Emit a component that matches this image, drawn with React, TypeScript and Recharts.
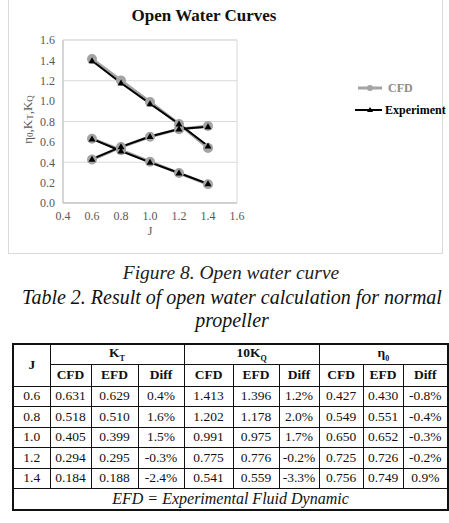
import React from 'react'
import {
  LineChart,
  Line,
  XAxis,
  YAxis,
  CartesianGrid,
  ReferenceArea,
  Legend,
} from 'recharts'

// ── data ─────────────────────────────────────────────
const J_VALUES = [0.6, 0.8, 1.0, 1.2, 1.4]

const CFD_KT = [0.631, 0.518, 0.405, 0.294, 0.184]
const EFD_KT = [0.629, 0.51, 0.399, 0.295, 0.188]
const CFD_KQ10 = [1.413, 1.202, 0.991, 0.775, 0.541]
const EFD_KQ10 = [1.396, 1.178, 0.975, 0.776, 0.559]
const CFD_ETA = [0.427, 0.549, 0.65, 0.725, 0.756]
const EFD_ETA = [0.43, 0.551, 0.652, 0.726, 0.749]

const X_TICKS = [0.4, 0.6, 0.8, 1.0, 1.2, 1.4, 1.6]
const Y_TICKS = [0, 0.2, 0.4, 0.6, 0.8, 1.0, 1.2, 1.4, 1.6]

const DIFF_KT = ['0.4%', '1.6%', '1.5%', '-0.3%', '-2.4%']
const DIFF_KQ = ['1.2%', '2.0%', '1.7%', '-0.2%', '-3.3%']
const DIFF_ETA = ['-0.8%', '-0.4%', '-0.3%', '-0.2%', '0.9%']

const data = J_VALUES.map((j, i) => ({
  j,
  cfdKT: CFD_KT[i],
  efdKT: EFD_KT[i],
  cfdKQ: CFD_KQ10[i],
  efdKQ: EFD_KQ10[i],
  cfdEta: CFD_ETA[i],
  efdEta: EFD_ETA[i],
}))

const SERIF = '"Liberation Serif", "Times New Roman", serif'
const GRAY = '#a3a3a3'
const AXIS_TEXT = '#595959'

// ── markers ──────────────────────────────────────────
function Triangle(props: any) {
  const { cx, cy, index } = props
  if (cx == null || cy == null) return null
  return (
    <path
      key={index}
      d={`M${cx},${cy - 3.5} L${cx + 3.5},${cy + 2.5} L${cx - 3.5},${cy + 2.5} Z`}
      fill="#000"
    />
  )
}

function LegendBox() {
  return (
    <svg width={95} height={40} style={{ display: 'block' }}>
      <line x1={4} y1={9} x2={28} y2={9} stroke={GRAY} strokeWidth={3} />
      <circle cx={16} cy={9} r={3} fill={GRAY} />
      <text x={34} y={13} fontFamily={SERIF} fontWeight="bold" fontSize={12} fill="#8c8c8c">CFD</text>
      <line x1={1} y1={31} x2={28} y2={31} stroke="#000" strokeWidth={2} />
      <path d="M16,28 L19,33 L13,33 Z" fill="#000" />
      <text x={31} y={35} fontFamily={SERIF} fontWeight="bold" fontSize={12} fill="#000">Experiment</text>
    </svg>
  )
}

function YLabel(props: any) {
  const { viewBox } = props
  const x = viewBox.x + 18
  const y = viewBox.y + viewBox.height / 2 - 2
  return (
    <text
      x={x}
      y={y}
      transform={`rotate(-90, ${x}, ${y})`}
      textAnchor="middle"
      dominantBaseline="central"
      fontFamily={SERIF}
      fontSize={13}
      fill={AXIS_TEXT}
    >
      η<tspan fontSize={9} dy={3}>0</tspan>
      <tspan dy={-3}>,K</tspan>
      <tspan fontSize={9} dy={3}>T</tspan>
      <tspan dy={-3}>,K</tspan>
      <tspan fontSize={9} dy={3}>Q</tspan>
    </text>
  )
}

function XLabel(props: any) {
  const { viewBox } = props
  return (
    <text
      x={viewBox.x + viewBox.width / 2}
      y={viewBox.y + 28}
      textAnchor="middle"
      dominantBaseline="central"
      fontFamily={SERIF}
      fontSize={12}
      fill={AXIS_TEXT}
    >
      J
    </text>
  )
}

// ── table pieces ─────────────────────────────────────
const cell: React.CSSProperties = {
  border: '1px solid #111',
  padding: 0,
  textAlign: 'center',
  verticalAlign: 'middle',
}
const COL_WIDTHS = [37, 41, 47, 46, 49, 46, 40, 44, 40, 45]

export default function App() {
  return (
    <div style={{ position: 'absolute', left: 0, top: 0, width: 449, height: 523, overflow: 'hidden', background: '#fff', fontFamily: SERIF }}>
      {/* chart frame */}
      <div style={{ position: 'absolute', left: 8, top: -1, width: 433, height: 253, border: '1px solid #d9d9d9' }}>
        <div style={{ position: 'absolute', left: 0, top: 6, width: 390, textAlign: 'center', fontWeight: 'bold', fontSize: 17, color: '#111' }}>
          Open Water Curves
        </div>
        <LineChart width={433} height={253} data={data} margin={{ top: 40, right: 110, left: 0, bottom: 20 }}>
          <CartesianGrid horizontal vertical={false} stroke="#d9d9d9" />
          <ReferenceArea x1={0.4} x2={1.6} y1={0} y2={1.6} fill="none" stroke="#d9d9d9" ifOverflow="visible" />
          <XAxis
            type="number"
            dataKey="j"
            domain={[0.4, 1.6]}
            ticks={X_TICKS}
            tickFormatter={(v: number) => v.toFixed(1)}
            tick={{ fill: AXIS_TEXT, fontSize: 12, fontFamily: SERIF }}
            tickLine={false}
            axisLine={{ stroke: '#bfbfbf' }}
            height={30}
            label={<XLabel />}
          />
          <YAxis
            type="number"
            domain={[0, 1.6]}
            ticks={Y_TICKS}
            tickFormatter={(v: number) => v.toFixed(1)}
            tick={{ fill: AXIS_TEXT, fontSize: 12, fontFamily: SERIF }}
            tickLine={false}
            axisLine={{ stroke: '#bfbfbf' }}
            width={54}
            label={<YLabel />}
          />
          <Legend
            layout="vertical"
            align="right"
            verticalAlign="top"
            content={() => <LegendBox />}
            wrapperStyle={{ position: 'absolute', left: 345, top: 79, width: 95 }}
          />
          <Line dataKey="cfdKQ" stroke={GRAY} strokeWidth={3} dot={{ r: 3.5, fill: GRAY, stroke: GRAY }} isAnimationActive={false} legendType="none" />
          <Line dataKey="cfdKT" stroke={GRAY} strokeWidth={3} dot={{ r: 3.5, fill: GRAY, stroke: GRAY }} isAnimationActive={false} legendType="none" />
          <Line dataKey="cfdEta" stroke={GRAY} strokeWidth={3} dot={{ r: 3.5, fill: GRAY, stroke: GRAY }} isAnimationActive={false} legendType="none" />
          <Line dataKey="efdKQ" stroke="#000" strokeWidth={2} dot={<Triangle />} isAnimationActive={false} legendType="none" />
          <Line dataKey="efdKT" stroke="#000" strokeWidth={2} dot={<Triangle />} isAnimationActive={false} legendType="none" />
          <Line dataKey="efdEta" stroke="#000" strokeWidth={2} dot={<Triangle />} isAnimationActive={false} legendType="none" />
        </LineChart>
      </div>

      {/* captions */}
      <div style={{ position: 'absolute', left: 0, top: 262, width: 462, textAlign: 'center', fontStyle: 'italic', fontSize: 19.5, lineHeight: '22px', color: '#222' }}>
        Figure 8. Open water curve
      </div>
      <div style={{ position: 'absolute', left: 0, top: 286, width: 464, textAlign: 'center', fontStyle: 'italic', fontSize: 20, lineHeight: '23px', color: '#111' }}>
        Table 2. Result of open water calculation for normal
        <br />
        propeller
      </div>

      {/* table */}
      <table
        style={{
          position: 'absolute',
          left: 12,
          top: 343,
          borderCollapse: 'collapse',
          tableLayout: 'fixed',
          width: 435,
          fontSize: 13.5,
          color: '#111',
          border: '2px solid #111',
        }}
      >
        <colgroup>
          {COL_WIDTHS.map((w, i) => (
            <col key={i} style={{ width: w }} />
          ))}
        </colgroup>
        <tbody>
          <tr style={{ height: 20 }}>
            <td rowSpan={2} style={{ ...cell, fontWeight: 'bold' }}>J</td>
            <td colSpan={3} style={{ ...cell, fontWeight: 'bold' }}>K<sub style={{ fontSize: 8 }}>T</sub></td>
            <td colSpan={3} style={{ ...cell, fontWeight: 'bold' }}>10K<sub style={{ fontSize: 8 }}>Q</sub></td>
            <td colSpan={3} style={{ ...cell, fontWeight: 'bold' }}>η<sub style={{ fontSize: 8 }}>0</sub></td>
          </tr>
          <tr style={{ height: 22 }}>
            {['CFD', 'EFD', 'Diff', 'CFD', 'EFD', 'Diff', 'CFD', 'EFD', 'Diff'].map((h, i) => (
              <td key={i} style={{ ...cell, fontWeight: 'bold' }}>{h}</td>
            ))}
          </tr>
          {J_VALUES.map((j, i) => (
            <tr key={j} style={{ height: 20.5 }}>
              <td style={cell}>{j.toFixed(1)}</td>
              <td style={cell}>{CFD_KT[i].toFixed(3)}</td>
              <td style={cell}>{EFD_KT[i].toFixed(3)}</td>
              <td style={cell}>{DIFF_KT[i]}</td>
              <td style={cell}>{CFD_KQ10[i].toFixed(3)}</td>
              <td style={cell}>{EFD_KQ10[i].toFixed(3)}</td>
              <td style={cell}>{DIFF_KQ[i]}</td>
              <td style={cell}>{CFD_ETA[i].toFixed(3)}</td>
              <td style={cell}>{EFD_ETA[i].toFixed(3)}</td>
              <td style={cell}>{DIFF_ETA[i]}</td>
            </tr>
          ))}
          <tr style={{ height: 21 }}>
            <td colSpan={10} style={{ ...cell, fontStyle: 'italic', fontSize: 16 }}>
              EFD = Experimental Fluid Dynamic
            </td>
          </tr>
        </tbody>
      </table>
    </div>
  )
}
